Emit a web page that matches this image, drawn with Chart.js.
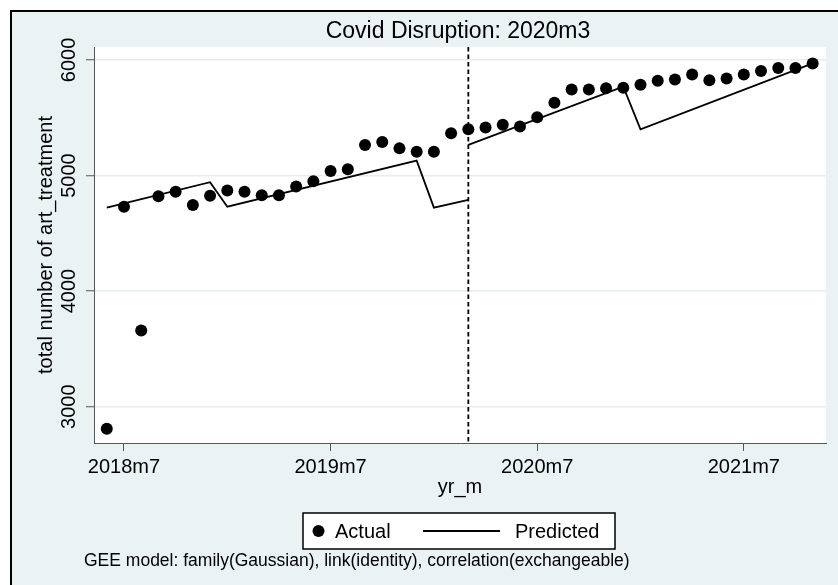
<!DOCTYPE html>
<html><head><meta charset="utf-8">
<script src="https://cdn.jsdelivr.net/npm/chart.js@4.4.1/dist/chart.umd.min.js"></script>
<style>
html,body{margin:0;padding:0;background:#fff;}
body{width:838px;height:585px;overflow:hidden;position:relative;}
#frame{position:absolute;left:10px;top:10px;width:900px;height:700px;box-sizing:border-box;border-left:2px solid #000;border-top:2px solid #000;background:#eaf2f3;}
#wrap{position:absolute;left:0;top:0;width:838px;height:585px;}
</style></head><body>
<div id="frame"></div>
<div id="wrap"><canvas id="c" width="838" height="585"></canvas></div>
<script>
// ---- data ----
const months = ['2018m6','2018m7','2018m8','2018m9','2018m10','2018m11','2018m12',
  '2019m1','2019m2','2019m3','2019m4','2019m5','2019m6','2019m7','2019m8','2019m9','2019m10','2019m11','2019m12',
  '2020m1','2020m2','2020m3','2020m4','2020m5','2020m6','2020m7','2020m8','2020m9','2020m10','2020m11','2020m12',
  '2021m1','2021m2','2021m3','2021m4','2021m5','2021m6','2021m7','2021m8','2021m9','2021m10','2021m11'];
const actual = [2810,4730,3660,4820,4860,4745,4825,
  4870,4860,4830,4830,4905,4950,5040,5055,5265,5290,5235,5205,
  5205,5365,5400,5415,5440,5425,5505,5630,5745,5745,5755,5760,
  5785,5820,5830,5875,5825,5840,5875,5905,5930,5930,5970];
// predicted line vertices (pre- and post-disruption segments)
const predPreMonths = ['2018m6','2018m12','2019m1','2019m12','2020m1','2020m3'];
const predPreValues = [4722,4942,4730,5129,4722,4789];
const predPostMonths = ['2020m3','2020m12','2021m1','2021m11'];
const predPostValues = [5265,5769,5400,5970];
const xTickLabels = ['2018m7','2019m7','2020m7','2021m7'];
const yTicks = [3000,4000,5000,6000];
const disruptionMonth = '2020m3';
const titleText = 'Covid Disruption: 2020m3';
const xTitle = 'yr_m';
const yTitle = 'total number of art_treatment';
const legendLabels = ['Actual','Predicted'];
const noteText = 'GEE model: family(Gaussian), link(identity), correlation(exchangeable)';

const FAM = '"Liberation Sans", Arial, Helvetica, sans-serif';
Chart.defaults.font.family = FAM;
Chart.defaults.color = '#000';

const actualPts = actual.map((v,i)=>({x:i, y:v}));
const predPts = predPreMonths.map((m,k)=>({x:months.indexOf(m), y:predPreValues[k]}))
  .concat([{x:months.indexOf(disruptionMonth), y:null}])
  .concat(predPostMonths.map((m,k)=>({x:months.indexOf(m), y:predPostValues[k]})));

const decor = {
  id:'decor',
  beforeDraw(chart){
    const {ctx, chartArea:ca} = chart;
    ctx.save();
    ctx.fillStyle = '#fff';
    ctx.fillRect(ca.left, ca.top, ca.right-ca.left, ca.bottom-ca.top);
    ctx.restore();
  },
  beforeDatasetsDraw(chart){
    const {ctx, chartArea:ca, scales} = chart;
    const x = scales.x.getPixelForValue(months.indexOf(disruptionMonth));
    ctx.save();
    ctx.strokeStyle = '#000';
    ctx.lineWidth = 1.8;
    ctx.setLineDash([4.5,3]);
    ctx.beginPath(); ctx.moveTo(x, ca.top); ctx.lineTo(x, ca.bottom); ctx.stroke();
    ctx.restore();
  },
  afterDraw(chart){
    const {ctx, chartArea:ca} = chart;
    const cx = (ca.left+ca.right)/2;
    ctx.save();
    ctx.fillStyle = '#000';
    ctx.font = '23px ' + FAM;
    ctx.textAlign = 'center'; ctx.textBaseline = 'middle';
    ctx.fillText(titleText, cx - 2, 32);
    // legend
    const bw = 312, bh = 36, bx = cx - 157, by = 513;
    ctx.fillStyle = '#fff'; ctx.fillRect(bx, by, bw, bh);
    ctx.strokeStyle = '#000'; ctx.lineWidth = 1.5; ctx.strokeRect(bx, by, bw, bh);
    ctx.fillStyle = '#000';
    ctx.beginPath(); ctx.arc(bx+15.5, by+bh/2, 6, 0, Math.PI*2); ctx.fill();
    ctx.font = '20px ' + FAM; ctx.textAlign = 'left'; ctx.textBaseline = 'alphabetic';
    ctx.fillText(legendLabels[0], bx+32, by+25);
    ctx.beginPath(); ctx.moveTo(bx+120, by+bh/2); ctx.lineTo(bx+197, by+bh/2); ctx.lineWidth = 1.8; ctx.stroke();
    ctx.fillText(legendLabels[1], bx+212, by+25);
    // note
    ctx.font = '17.5px ' + FAM;
    ctx.fillText(noteText, 84, 566);
    ctx.restore();
  }
};

new Chart(document.getElementById('c'), {
  data: {
    datasets: [
      {type:'line', label:legendLabels[1], data:predPts, borderColor:'#000', borderWidth:1.8,
       pointRadius:0, pointHoverRadius:0, spanGaps:false, tension:0, fill:false},
      {type:'scatter', label:legendLabels[0], data:actualPts, backgroundColor:'#000', borderWidth:0,
       pointRadius:6, pointHoverRadius:6}
    ]
  },
  options: {
    responsive:false, animation:false, devicePixelRatio:1,
    layout:{padding:{left:0, top:47, right:12, bottom:86}},
    plugins:{legend:{display:false}, title:{display:false}, tooltip:{enabled:false}},
    scales:{
      x:{type:'linear', position:'bottom', min:-0.742, max:41.774,
        afterBuildTicks: s => { s.ticks = xTickLabels.map(l => ({value: months.indexOf(l)})); },
        afterFit: s => { s.height = 56; },
        grid:{drawOnChartArea:false, drawTicks:true, tickLength:8, tickColor:'#555', tickWidth:1},
        border:{display:true, color:'#555', width:1},
        ticks:{font:{size:20}, color:'#000', padding:4, maxRotation:0, minRotation:0, autoSkip:false,
          callback: v => months[v]},
        title:{display:true, text:xTitle, font:{size:20}, color:'#000', padding:{top:0, bottom:0}}
      },
      y:{type:'linear', position:'left', min:2686, max:6112,
        afterBuildTicks: s => { s.ticks = yTicks.map(v => ({value:v})); },
        afterFit: s => { s.width = 94; },
        grid:{color:'#e4edf0', lineWidth:1.5, drawTicks:true, tickLength:8, tickColor:'#555', tickWidth:1},
        border:{display:true, color:'#555', width:1},
        ticks:{font:{size:20}, color:'#000', minRotation:90, maxRotation:90, crossAlign:'center', padding:-6,
          callback: v => String(v)},
        title:{display:true, text:yTitle, font:{size:20}, color:'#000', padding:{top:34, bottom:0}}
      }
    }
  },
  plugins:[decor]
});
</script>
</body></html>
